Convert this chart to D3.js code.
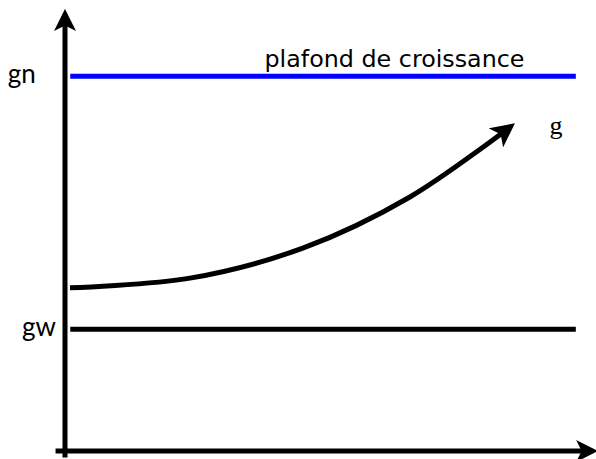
<!DOCTYPE html>
<html>
<head>
<meta charset="utf-8">
<script src="https://cdn.jsdelivr.net/npm/d3@7"></script>
<style>
  body { margin: 0; background: #fff; }
</style>
</head>
<body>
<div id="root"></div>
<script>
var width = 596,
    height = 459;

// niveaux (unités arbitraires, 0..100)
var levelNames = ["gn", "gw"];
var levelValues = [85, 27.6];
var levelColors = ["#0000ff", "#000000"];
var levelLabelX = [-10.9, -8.2];
var ceilingLabel = "plafond de croissance";

// trajectoire de g
var curveX = [0.95, 23.8, 45.3, 65.7, 84.8];
var curveY = [37.0, 39.2, 46.0, 57.6, 73.5];
var curveLabel = "g";

var x = d3.scaleLinear().domain([0, 100]).range([65, 590]);
var y = d3.scaleLinear().domain([0, 100]).range([451, 10]);

var svg = d3.select("#root")
    .append("svg")
    .attr("width", width)
    .attr("height", height);

var defs = svg.append("defs");
// pointe de flèche style tikz
function addArrow(id, size) {
    defs.append("marker")
        .attr("id", id)
        .attr("viewBox", "0 -6 12 12")
        .attr("refX", 9)
        .attr("refY", 0)
        .attr("markerUnits", "userSpaceOnUse")
        .attr("markerWidth", size)
        .attr("markerHeight", size)
        .attr("orient", "auto")
        .append("path")
        .attr("d", "M0,-6 L12,0 L0,6 L3,0 Z")
        .style("fill", "#000");
}
addArrow("arrowAxis", 22);
addArrow("arrowCurve", 24);

// axes
svg.append("line")
    .attr("x1", x(0)).attr("y1", y(-1.5))
    .attr("x2", x(0)).attr("y2", y(99))
    .style("stroke", "#000")
    .style("stroke-width", 5)
    .attr("marker-end", "url(#arrowAxis)");

svg.append("line")
    .attr("x1", x(-1.8)).attr("y1", y(0))
    .attr("x2", x(100.5)).attr("y2", y(0))
    .style("stroke", "#000")
    .style("stroke-width", 5)
    .attr("marker-end", "url(#arrowAxis)");

// niveaux horizontaux
levelValues.forEach(function (v, i) {
    svg.append("line")
        .attr("x1", x(1)).attr("y1", y(v))
        .attr("x2", x(97.3)).attr("y2", y(v))
        .style("stroke", levelColors[i])
        .style("stroke-width", 5);
    svg.append("text")
        .attr("x", x(levelLabelX[i]))
        .attr("y", y(v) + 7)
        .style("font-family", "Lato, sans-serif")
        .style("font-size", "26px")
        .style("fill", "#000")
        .text(levelNames[i]);
});

svg.append("text")
    .attr("x", x(38))
    .attr("y", y(levelValues[0]) - 9)
    .style("font-family", "'DejaVu Sans', sans-serif")
    .style("font-size", "23px")
    .attr("textLength", 260)
    .attr("lengthAdjust", "spacingAndGlyphs")
    .style("fill", "#000")
    .text(ceilingLabel);

// courbe g
var pts = curveX.map(function (d, i) { return [d, curveY[i]]; });
var line = d3.line()
    .x(function (d) { return x(d[0]); })
    .y(function (d) { return y(d[1]); })
    .curve(d3.curveCatmullRom);

svg.append("path")
    .datum(pts)
    .attr("d", line)
    .style("fill", "none")
    .style("stroke", "#000")
    .style("stroke-width", 5)
    .attr("marker-end", "url(#arrowCurve)");

svg.append("text")
    .attr("x", x(92.3))
    .attr("y", y(71.9))
    .style("font-family", "'Liberation Serif', serif")
    .style("font-size", "26px")
    .style("fill", "#000")
    .text(curveLabel);
</script>
</body>
</html>
